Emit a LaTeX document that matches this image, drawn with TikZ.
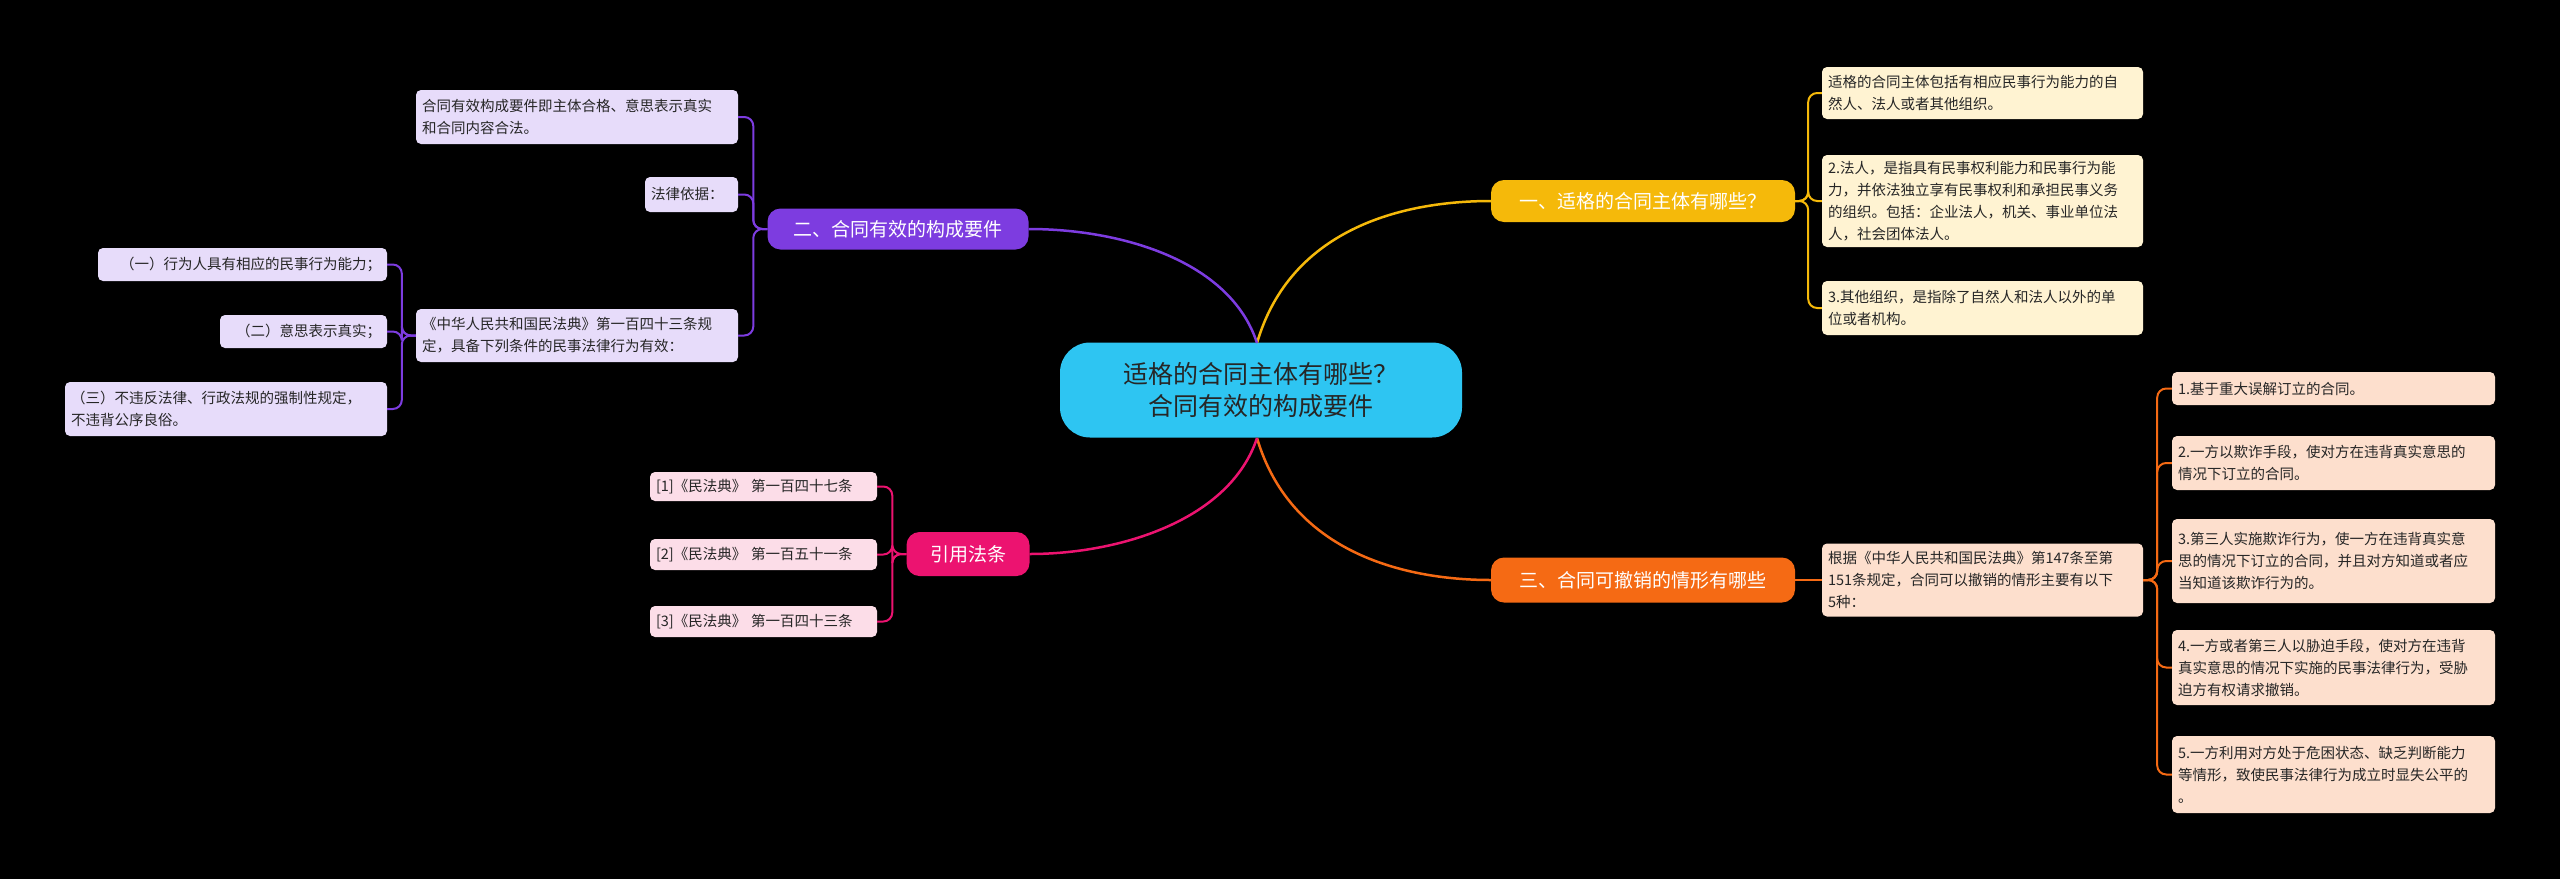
\documentclass[tikz,border=0pt]{standalone}
\usepackage{fontspec}
\setmainfont{Noto Sans CJK SC}
\usepackage{tikz}
\usetikzlibrary{positioning}
\definecolor{cyanc}{HTML}{2EC5F2}
\definecolor{yelc}{HTML}{F5B90A}
\definecolor{yell}{HTML}{FFF3D2}
\definecolor{orac}{HTML}{F56A14}
\definecolor{oral}{HTML}{FDDFCD}
\definecolor{purc}{HTML}{7D3CE0}
\definecolor{purl}{HTML}{E7DCFA}
\definecolor{pinc}{HTML}{EC1370}
\definecolor{pinl}{HTML}{FCDDE8}

\begin{document}
\begin{tikzpicture}[x=1pt, y=-1pt,
    leaf/.style={rectangle, rounded corners=5pt, inner xsep=6pt, inner ysep=4pt, align=left,
        font=\fontsize{14.5}{22}\selectfont, text=black!85},
    branch/.style={rectangle, rounded corners=13pt, text=white, font=\fontsize{19}{23}\selectfont},
    link/.style={line width=2pt, rounded corners=9pt}
]
    % Background
    \fill[black] (0,0) rectangle (2560,879);

    % Root
    \node[rectangle, rounded corners=30pt, fill=cyanc, minimum width=402, minimum height=95,
        align=center, font=\fontsize{25}{32}\selectfont, text=black!85] (root) at (1261,390)
        {适格的合同主体有哪些？\\合同有效的构成要件};
    \coordinate (rtop) at (1257,343);
    \coordinate (rbot) at (1257,438);

    % Branches
    \node[branch, fill=yelc, minimum width=304, minimum height=42] (b1) at (1643,201) {一、适格的合同主体有哪些？};
    \node[branch, fill=orac, minimum width=304, minimum height=45] (b3) at (1643,580) {三、合同可撤销的情形有哪些};
    \node[branch, fill=purc, minimum width=261, minimum height=41] (b2) at (898,229) {二、合同有效的构成要件};
    \node[branch, fill=pinc, minimum width=123, minimum height=44] (b4) at (968,554) {引用法条};

    \draw[yelc, line width=2.5pt] (rtop) .. controls (1290,230) and (1400,201) .. (b1.west);
    \draw[orac, line width=2.5pt] (rbot) .. controls (1290,550) and (1400,580) .. (b3.west);
    \draw[purc, line width=2.5pt] (rtop) .. controls (1230,260) and (1120,229) .. (b2.east);
    \draw[pinc, line width=2.5pt] (rbot) .. controls (1230,520) and (1120,554) .. (b4.east);

    % Yellow leaves
    \node[leaf, fill=yell, minimum width=321, minimum height=52, text width=309] (y1) at (1982.5,93)
        {适格的合同主体包括有相应民事行为能力的自\\然人、法人或者其他组织。};
    \node[leaf, fill=yell, minimum width=321, minimum height=92, text width=309] (y2) at (1982.5,201)
        {2.法人，是指具有民事权利能力和民事行为能\\力，并依法独立享有民事权利和承担民事义务\\的组织。包括：企业法人，机关、事业单位法\\人，社会团体法人。};
    \node[leaf, fill=yell, minimum width=321, minimum height=54, text width=309] (y3) at (1982.5,308)
        {3.其他组织，是指除了自然人和法人以外的单\\位或者机构。};
    \foreach \n in {y1,y2,y3}
        \draw[link, yelc] (b1.east) -- ++(13,0) |- (\n.west);

    % Orange leaves
    \node[leaf, fill=oral, minimum width=321, minimum height=73, text width=309] (o0) at (1982.5,580)
        {根据《中华人民共和国民法典》第147条至第\\151条规定，合同可以撤销的情形主要有以下\\5种：};
    \draw[link, orac] (b3.east) -- (o0.west);
    \node[leaf, fill=oral, minimum width=323, minimum height=33, text width=311] (o1) at (2333.5,388.5)
        {1.基于重大误解订立的合同。};
    \node[leaf, fill=oral, minimum width=323, minimum height=54, text width=311] (o2) at (2333.5,463)
        {2.一方以欺诈手段，使对方在违背真实意思的\\情况下订立的合同。};
    \node[leaf, fill=oral, minimum width=323, minimum height=84, text width=311] (o3) at (2333.5,561)
        {3.第三人实施欺诈行为，使一方在违背真实意\\思的情况下订立的合同，并且对方知道或者应\\当知道该欺诈行为的。};
    \node[leaf, fill=oral, minimum width=323, minimum height=75, text width=311] (o4) at (2333.5,667.5)
        {4.一方或者第三人以胁迫手段，使对方在违背\\真实意思的情况下实施的民事法律行为，受胁\\迫方有权请求撤销。};
    \node[leaf, fill=oral, minimum width=323, minimum height=77, text width=311] (o5) at (2333.5,774.5)
        {5.一方利用对方处于危困状态、缺乏判断能力\\等情形，致使民事法律行为成立时显失公平的\\。};
    \foreach \n in {o1,o2,o3,o4,o5}
        \draw[link, orac] (o0.east) -- ++(14,0) |- (\n.west);

    % Purple leaves
    \node[leaf, fill=purl, minimum width=322, minimum height=54, text width=310] (p1) at (577,117)
        {合同有效构成要件即主体合格、意思表示真实\\和合同内容合法。};
    \node[leaf, fill=purl, minimum width=93, minimum height=35, text width=81] (p2) at (691.5,194.5)
        {法律依据：};
    \node[leaf, fill=purl, minimum width=322, minimum height=53, text width=310] (p3) at (577,335.5)
        {《中华人民共和国民法典》第一百四十三条规\\定，具备下列条件的民事法律行为有效：};
    \foreach \n in {p1,p2,p3}
        \draw[link, purc] (b2.west) -- ++(-14,0) |- (\n.east);

    \node[leaf, fill=purl, minimum width=289, minimum height=33, text width=277, align=right] (q1) at (242.5,264.5)
        {（一）行为人具有相应的民事行为能力；};
    \node[leaf, fill=purl, minimum width=167, minimum height=33, text width=155, align=right] (q2) at (303.5,331.5)
        {（二）意思表示真实；};
    \node[leaf, fill=purl, minimum width=322, minimum height=54, text width=310] (q3) at (226,409)
        {（三）不违反法律、行政法规的强制性规定，\\不违背公序良俗。};
    \foreach \n in {q1,q2,q3}
        \draw[link, purc] (p3.west) -- ++(-14,0) |- (\n.east);

    % Pink leaves
    \node[leaf, fill=pinl, minimum width=227, minimum height=29, text width=215] (k1) at (763.5,486.5)
        {[1]《民法典》 第一百四十七条};
    \node[leaf, fill=pinl, minimum width=227, minimum height=31, text width=215] (k2) at (763.5,554.5)
        {[2]《民法典》 第一百五十一条};
    \node[leaf, fill=pinl, minimum width=227, minimum height=31, text width=215] (k3) at (763.5,621.5)
        {[3]《民法典》 第一百四十三条};
    \foreach \n in {k1,k2,k3}
        \draw[link, pinc] (b4.west) -- ++(-14,0) |- (\n.east);
\end{tikzpicture}
\end{document}
